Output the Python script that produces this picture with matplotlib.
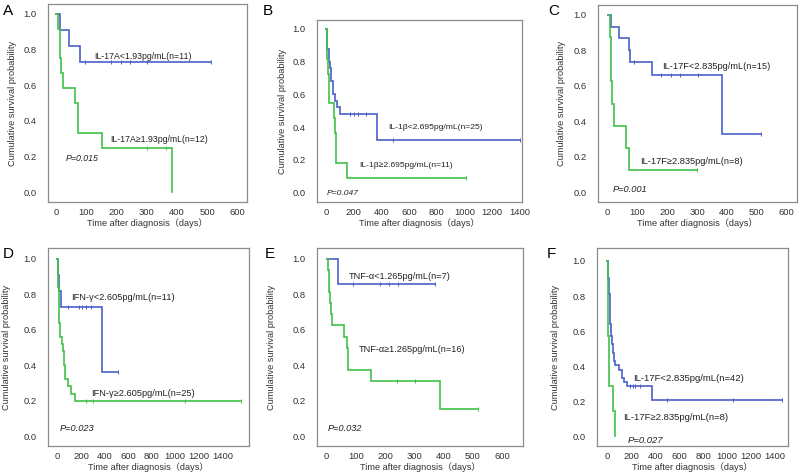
import numpy as np
import matplotlib
matplotlib.use("Agg")
import matplotlib.pyplot as plt

plt.rcParams['font.family'] = ['Liberation Sans', 'Noto Sans CJK SC', 'DejaVu Sans']

BLUE = '#4a60c8'
GREEN = '#3fc24a'
FRAME = '#8c8c8c'

# ---- data: Kaplan-Meier steps (event times, survival after event), censor times ----
# A: IL-17A
a_hi_times = [12, 43, 78]
a_hi_surv = [0.909, 0.818, 0.727]
a_hi_end = 512
a_hi_cens = [96, 181, 214, 244, 300, 512]
a_lo_times = [8, 13, 17, 22, 62, 72, 152, 385]
a_lo_surv = [0.917, 0.75, 0.667, 0.583, 0.5, 0.333, 0.25, 0.0]
a_lo_end = 385
a_lo_cens = [301, 363]

# B: IL-1beta
b_hi_times = [10, 20, 26, 36, 50, 67, 80, 104, 370]
b_hi_surv = [0.88, 0.80, 0.76, 0.68, 0.60, 0.56, 0.52, 0.48, 0.32]
b_hi_end = 1396
b_hi_cens = [176, 205, 230, 292, 483, 1396]
b_lo_times = [9, 14, 20, 24, 56, 65, 72, 150]
b_lo_surv = [0.818, 0.727, 0.636, 0.545, 0.455, 0.364, 0.182, 0.091]
b_lo_end = 1010
b_lo_cens = [1010]

# C: IL-17F
c_hi_times = [10, 38, 71, 75, 150, 384]
c_hi_surv = [0.933, 0.867, 0.8, 0.733, 0.66, 0.33]
c_hi_end = 512
c_hi_cens = [88, 180, 211, 241, 303, 512]
c_lo_times = [8, 10, 12, 16, 20, 62, 70]
c_lo_surv = [0.875, 0.75, 0.625, 0.5, 0.375, 0.25, 0.125]
c_lo_end = 300
c_lo_cens = [300]

# D: IFN-gamma
d_hi_times = [8, 14, 34, 382]
d_hi_surv = [0.909, 0.818, 0.727, 0.364]
d_hi_end = 512
d_hi_cens = [88, 181, 209, 246, 288, 512]
d_lo_times = [5, 8, 10, 12, 14, 25, 40, 48, 59, 68, 88, 116, 145]
d_lo_surv = [0.92, 0.84, 0.76, 0.68, 0.64, 0.56, 0.52, 0.48, 0.40, 0.32, 0.28, 0.24, 0.20]
d_lo_end = 1560
d_lo_cens = [245, 302, 1081, 1560]

# E: TNF-alpha
e_hi_times = [38]
e_hi_surv = [0.857]
e_hi_end = 370
e_hi_cens = [91, 182, 213, 245, 370]
e_lo_times = [5, 7, 9, 10, 15, 18, 59, 68, 72, 150, 387]
e_lo_surv = [0.9375, 0.875, 0.8125, 0.75, 0.6875, 0.625, 0.5625, 0.5, 0.375, 0.3125, 0.156]
e_lo_end = 517
e_lo_cens = [240, 301, 517]

# F: IL-17F (second cohort)
f_hi_times = [4, 6, 8, 10, 11, 20, 25, 31, 39, 48, 58, 67, 95, 123, 137, 164, 376]
f_hi_surv = [0.976, 0.952, 0.905, 0.857, 0.81, 0.714, 0.643, 0.571, 0.524, 0.476, 0.429,
             0.405, 0.381, 0.333, 0.31, 0.286, 0.21]
f_hi_end = 1458
f_hi_cens = [192, 215, 234, 275, 500, 1048, 1458]
f_lo_times = [4, 6, 8, 10, 15, 47, 62]
f_lo_surv = [0.857, 0.714, 0.571, 0.429, 0.286, 0.143, 0.0]
f_lo_end = 62
f_lo_cens = []

labels_blue = ['IL-17A<1.93pg/mL(n=11)', 'IL-1β<2.695pg/mL(n=25)', 'IL-17F<2.835pg/mL(n=15)',
               'IFN-γ<2.605pg/mL(n=11)', 'TNF-α<1.265pg/mL(n=7)', 'IL-17F<2.835pg/mL(n=42)']
labels_green = ['IL-17A≥1.93pg/mL(n=12)', 'IL-1β≥2.695pg/mL(n=11)', 'IL-17F≥2.835pg/mL(n=8)',
                'IFN-γ≥2.605pg/mL(n=25)', 'TNF-α≥1.265pg/mL(n=16)', 'IL-17F≥2.835pg/mL(n=8)']
p_values = ['0.015', '0.047', '0.001', '0.023', '0.032', '0.027']
letters = ['A', 'B', 'C', 'D', 'E', 'F']

curves = [
    ((a_hi_times, a_hi_surv, a_hi_end, a_hi_cens), (a_lo_times, a_lo_surv, a_lo_end, a_lo_cens)),
    ((b_hi_times, b_hi_surv, b_hi_end, b_hi_cens), (b_lo_times, b_lo_surv, b_lo_end, b_lo_cens)),
    ((c_hi_times, c_hi_surv, c_hi_end, c_hi_cens), (c_lo_times, c_lo_surv, c_lo_end, c_lo_cens)),
    ((d_hi_times, d_hi_surv, d_hi_end, d_hi_cens), (d_lo_times, d_lo_surv, d_lo_end, d_lo_cens)),
    ((e_hi_times, e_hi_surv, e_hi_end, e_hi_cens), (e_lo_times, e_lo_surv, e_lo_end, e_lo_cens)),
    ((f_hi_times, f_hi_surv, f_hi_end, f_hi_cens), (f_lo_times, f_lo_surv, f_lo_end, f_lo_cens)),
]

# ---- layout (pixel-measured) ----
axes_rects = [
    [0.06, 0.5747, 0.24875, 0.4168],
    [0.39625, 0.5747, 0.25625, 0.3832],
    [0.7475, 0.5747, 0.24875, 0.4147],
    [0.06, 0.0611, 0.25125, 0.4168],
    [0.39625, 0.0611, 0.2575, 0.4168],
    [0.74625, 0.0611, 0.23875, 0.4168],
]
xlims = [(-26.5, 632), (-65, 1414), (-32.5, 634), (-80, 1626), (-33, 671), (-86, 1508)]
ylims = [(-0.054, 1.054), (-0.059, 1.055), (-0.055, 1.055), (-0.056, 1.062), (-0.055, 1.062), (-0.055, 1.074)]
xstep = [100, 200, 100, 200, 100, 200]
blue_pos = [(126, 0.76), (450, 0.396), (182, 0.707), (120, 0.78), (75, 0.902), (214, 0.329)]
green_pos = [(178, 0.295), (243, 0.167), (110, 0.172), (288, 0.24), (109, 0.49), (131, 0.108)]
p_pos = [(31, 0.19), (2, -0.006), (18, 0.013), (19, 0.045), (5, 0.045), (170, -0.025)]
txt_size = [6.3, 6.1, 6.7, 6.7, 6.6, 6.8]
letter_px = [(3, 15), (263, 15), (548, 15), (3, 258), (265, 258), (547, 258)]
ylab_x = [-0.158, -0.144, -0.161, -0.184, -0.199, -0.196]

W, H = 800, 475
fig = plt.figure(figsize=(8, 4.75), dpi=100)


def draw_km(ax, times, surv, end, cens, color):
    x = [0] + list(times) + [end]
    y = [1.0] + list(surv) + [surv[-1]]
    ax.step(x, y, where='post', color=color, lw=1.2, solid_joinstyle='miter')
    if cens:
        lev = np.array([1.0] + list(surv))
        idx = np.searchsorted(times, cens, side='right')
        ax.plot(cens, lev[idx], '|', color=color, ms=3.5, mew=0.7)


for i in range(6):
    ax = fig.add_axes(axes_rects[i])
    hi, lo = curves[i]
    draw_km(ax, *hi, BLUE)
    draw_km(ax, *lo, GREEN)
    ax.set_xlim(xlims[i])
    ax.set_ylim(ylims[i])
    ax.set_xticks(np.arange(0, 1401 if xstep[i] == 200 else 601, xstep[i]))
    ax.set_yticks(np.arange(0, 1.01, 0.2))
    ax.set_yticklabels(['%.1f' % v for v in np.arange(0, 1.01, 0.2)])
    ax.tick_params(length=0, labelsize=6.8, colors='#333333')
    ax.tick_params(axis='y', pad=8)
    ax.tick_params(axis='x', pad=4)
    for s in ax.spines.values():
        s.set_color(FRAME)
        s.set_linewidth(0.9)
    ax.set_xlabel('Time after diagnosis（days）', fontsize=6.6, color='#333333', labelpad=1)
    ax.set_ylabel('Cumulative survival probability', fontsize=6.6, color='#333333')
    ax.yaxis.set_label_coords(ylab_x[i], 0.5)
    fs = txt_size[i]
    ax.text(*blue_pos[i], labels_blue[i], fontsize=fs, va='center', ha='left', color='#222222')
    ax.text(*green_pos[i], labels_green[i], fontsize=fs, va='center', ha='left', color='#222222')
    ax.text(*p_pos[i], 'P=' + p_values[i], fontsize=fs, va='center', ha='left',
            style='italic', color='#222222')
    lx, ly = letter_px[i]
    fig.text(lx / W, 1 - ly / H, letters[i], fontsize=11, va='baseline', ha='left')

fig.savefig('out.png', dpi=100)
